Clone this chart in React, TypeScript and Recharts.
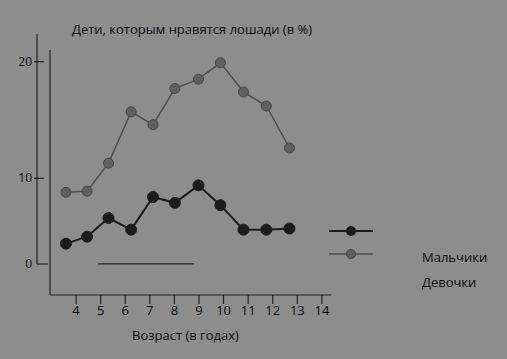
import React from "react";
import { LineChart, Line, XAxis, YAxis, ReferenceLine } from "recharts";

const ages = [3.59, 4.45, 5.32, 6.24, 7.13, 8.02, 8.98, 9.87, 10.81, 11.74, 12.68];
const boys = [4.4, 5.0, 6.6, 5.6, 8.4, 7.9, 9.4, 7.7, 5.6, 5.6, 5.7];
const girls = [8.8, 8.9, 11.3, 15.7, 14.6, 17.7, 18.5, 19.9, 17.4, 16.2, 12.6];
const xTicks = [4, 5, 6, 7, 8, 9, 10, 11, 12, 13, 14];
const yTicks = [0, 10, 20];
const seriesNames = ["Мальчики", "Девочки"];
const title = "Дети, которым нравятся лошади (в %)";
const xTitle = "Возраст (в годах)";

const data = ages.map((a, i) => ({ age: a, boys: boys[i], girls: girls[i] }));

const BG = "#8d8d8d";
const FONT = "'Open Sans', 'Noto Sans', sans-serif";
const TXT = "#0a0a0a";

const YTick = (props: any) => {
  const { x, y, payload } = props;
  const isZero = payload.value === 0;
  const ty = isZero ? y - 31 : y;
  return (
    <g>
      {!isZero && <line x1={x - 8} y1={y} x2={x + 2} y2={y} stroke="#222" strokeWidth={1.2} />}
      {isZero && (
        <>
          <line x1={x - 5} y1={y - 31} x2={x - 5} y2={y - 261} stroke="#222" strokeWidth={1.2} />
          <line x1={x - 5} y1={y - 31} x2={x + 6} y2={y - 31} stroke="#222" strokeWidth={1.2} />
        </>
      )}
      <text x={x - 10} y={ty} dy={4} textAnchor="end" fontSize={12} fill={TXT} fontFamily={FONT} fontWeight={500}>
        {payload.value}
      </text>
    </g>
  );
};

const LegendBox = () => (
  <svg width={180} height={70} style={{ position: "absolute", left: 329, top: 223 }}>
    <line x1={0} y1={8} x2={44} y2={8} stroke="#1c1c1c" strokeWidth={2} />
    <circle cx={22} cy={8} r={5} fill="#1c1c1c" />
    <line x1={0} y1={31} x2={44} y2={31} stroke="#4e4e4e" strokeWidth={1.5} />
    <circle cx={22} cy={31} r={4.5} fill="#5e5e5e" stroke="#444" />
    <text x={93} y={39} fontSize={13} fill={TXT} fontFamily={FONT} fontWeight={500}>{seriesNames[0]}</text>
    <text x={93} y={64} fontSize={13} fill={TXT} fontFamily={FONT} fontWeight={500}>{seriesNames[1]}</text>
  </svg>
);

export default function App() {
  return (
    <div style={{ position: "absolute", left: 0, top: 0, width: 507, height: 359, background: BG, fontFamily: FONT }}>
      <div style={{ position: "absolute", left: 72, top: 20, fontSize: 13, color: TXT, fontWeight: 500, whiteSpace: "nowrap" }}>{title}</div>
      <div style={{ position: "absolute", left: 132, top: 326, fontSize: 13, color: TXT, fontWeight: 500, whiteSpace: "nowrap" }}>{xTitle}</div>
      <LineChart width={507} height={359} data={data} margin={{ top: 50, right: 176, bottom: 44, left: 20 }}>
        <XAxis
          dataKey="age"
          type="number"
          domain={[2.94, 14.37]}
          ticks={xTicks}
          interval={0}
          allowDataOverflow
          stroke="#222"
          axisLine={{ stroke: "#222", strokeWidth: 1.2 }}
          tickLine={{ stroke: "#222", strokeWidth: 1.2 }}
          tickSize={9}
          tick={{ fontSize: 13, fill: TXT, fontFamily: FONT, fontWeight: 500 }}
          height={20}
        />
        <YAxis
          type="number"
          domain={[0, 21]}
          ticks={yTicks}
          width={30}
          axisLine={{ stroke: "#222", strokeWidth: 1.2 }}
          tickLine={false}
          tick={<YTick />}
          allowDataOverflow
        />
        <ReferenceLine segment={[{ x: 4.9, y: 2.66 }, { x: 8.8, y: 2.66 }]} stroke="#222" strokeWidth={1.2} ifOverflow="visible" />
        <Line
          dataKey="girls"
          name={seriesNames[1]}
          stroke="#4e4e4e"
          strokeWidth={1.5}
          dot={{ r: 5, fill: "#606060", stroke: "#444", strokeWidth: 1 }}
          isAnimationActive={false}
        />
        <Line
          dataKey="boys"
          name={seriesNames[0]}
          stroke="#1c1c1c"
          strokeWidth={2}
          dot={{ r: 5.5, fill: "#1c1c1c", stroke: "#1c1c1c", strokeWidth: 1 }}
          isAnimationActive={false}
        />
      </LineChart>
      <LegendBox />
    </div>
  );
}
